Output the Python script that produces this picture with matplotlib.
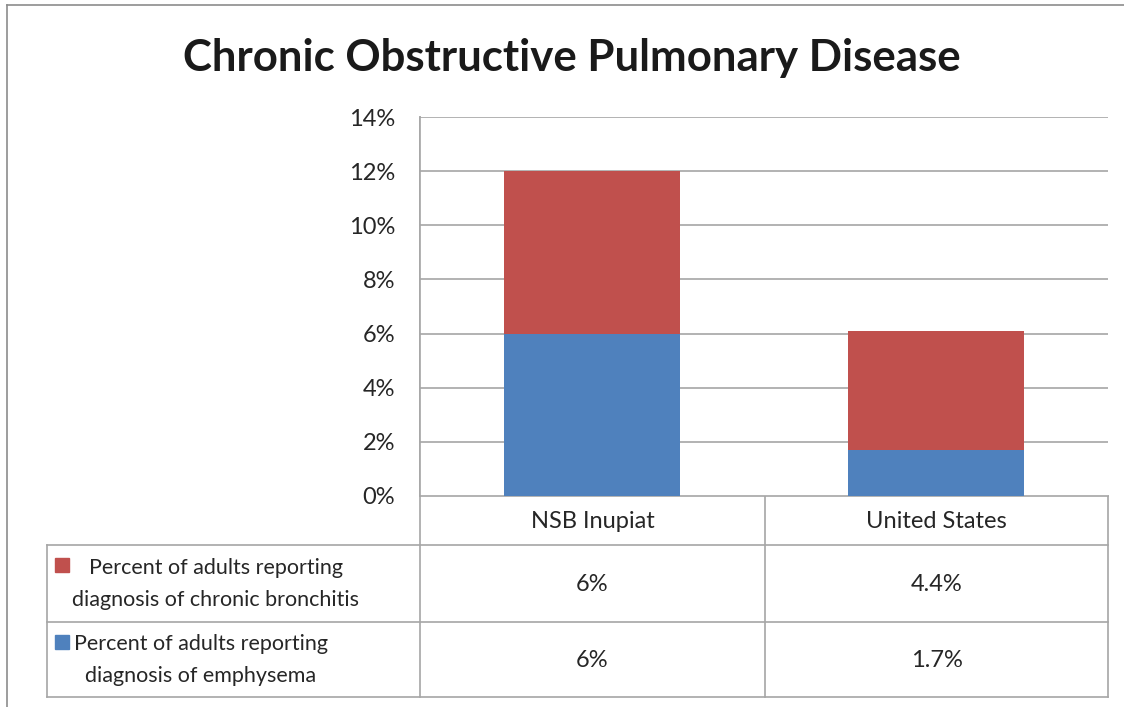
import matplotlib
matplotlib.use("Agg")
import matplotlib.pyplot as plt
from matplotlib.patches import Rectangle
from matplotlib.lines import Line2D

categories = ["NSB Inupiat", "United States"]
series_names = ["Percent of adults reporting\ndiagnosis of chronic bronchitis",
                "Percent of adults reporting\ndiagnosis of emphysema"]
emphysema = [6.0, 1.7]
bronchitis = [6.0, 4.4]
table_labels = [["6%", "4.4%"], ["6%", "1.7%"]]
yticks = [0, 2, 4, 6, 8, 10, 12, 14]

RED = "#C0504D"
BLUE = "#4F81BD"
GRID = "#A6A6A6"
TXT = "#262626"
W, H = 1124, 707

plt.rcParams['font.family'] = ['Lato', 'DejaVu Sans']

fig = plt.figure(figsize=(W / 100, H / 100), dpi=100)

def fx(px):
    return px / W

def fy(py):
    return 1 - py / H

# outer chart border (top and left visible)
fig.add_artist(Line2D([fx(7), fx(W)], [fy(5), fy(5)], color="#8C8C8C", lw=1.2))
fig.add_artist(Line2D([fx(7), fx(7)], [fy(5), 0], color="#8C8C8C", lw=1.2))

fig.text(fx(572), fy(58), "Chronic Obstructive Pulmonary Disease", ha="center", va="center",
         fontsize=31.5, fontweight="bold", color="#1a1a1a")

ax = fig.add_axes([fx(420), fy(496), fx(1108) - fx(420), fy(117) - fy(496)])
x = [0.5, 1.5]
ax.bar(x, emphysema, width=0.512, color=BLUE, zorder=3)
ax.bar(x, bronchitis, width=0.512, bottom=emphysema, color=RED, zorder=3)
ax.set_xlim(0, 2)
ax.set_ylim(0, 14)
ax.set_yticks(yticks)
ax.set_yticklabels([f"{v}%" for v in yticks], fontsize=17, color=TXT)
ax.tick_params(axis="y", length=0, pad=18)
ax.set_xticks([])
ax.yaxis.grid(True, color=GRID, lw=1.2, zorder=0)
for s in ["top", "right", "bottom"]:
    ax.spines[s].set_visible(False)
ax.spines["left"].set_color(GRID)
ax.spines["left"].set_linewidth(1.2)

# data table below the plot
tab = fig.add_axes([0, 0, 1, 1], zorder=-1)
tab.set_xlim(0, W)
tab.set_ylim(H, 0)
tab.axis("off")

col_edges = [420, 765, 1108]
row_edges = [496, 545, 622, 697]
lab_left = 47
lk = dict(color=GRID, lw=1.2)
tab.plot([420, 420], [117, row_edges[-1]], **lk)
tab.plot([420, 1108], [row_edges[0], row_edges[0]], **lk)
for r in row_edges[1:]:
    tab.plot([lab_left, 1108], [r, r], **lk)
tab.plot([lab_left, lab_left], [row_edges[1], row_edges[-1]], **lk)
for c in col_edges[1:]:
    tab.plot([c, c], [row_edges[0], row_edges[-1]], **lk)

for i, cat in enumerate(categories):
    tab.text((col_edges[i] + col_edges[i + 1]) / 2, (row_edges[0] + row_edges[1]) / 2 + 1, cat,
             ha="center", va="center", fontsize=17, color=TXT)

colors = [RED, BLUE]
text_x = [216, 201]
for r in range(2):
    y0, y1 = row_edges[r + 1], row_edges[r + 2]
    ym = (y0 + y1) / 2
    tab.add_patch(Rectangle((55, y0 + 13), 14, 14, color=colors[r]))
    tab.text(text_x[r], ym + 1, series_names[r], ha="center", va="center",
             fontsize=15.5, color=TXT, linespacing=1.75)
    for i in range(2):
        tab.text((col_edges[i] + col_edges[i + 1]) / 2, ym + 1, table_labels[r][i],
                 ha="center", va="center", fontsize=17, color=TXT)

fig.savefig("out.png", dpi=100)
